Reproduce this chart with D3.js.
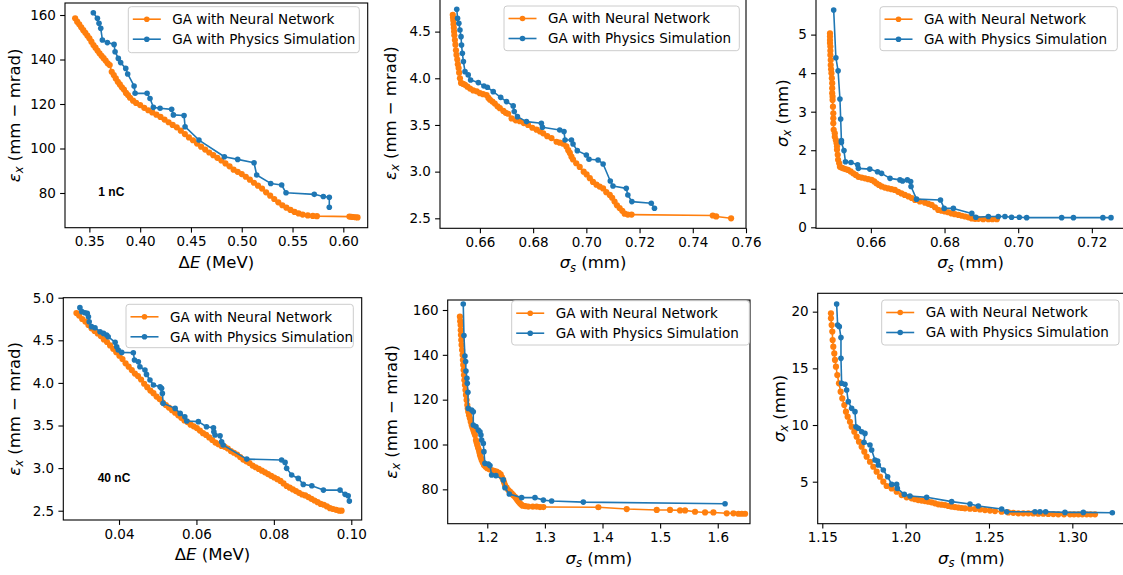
<!DOCTYPE html>
<meta charset="utf-8">
<style>
body { margin: 0; background: #fff; }
svg { display: block; font-family: "DejaVu Sans", sans-serif; }
.axis text { font-family: "DejaVu Sans", sans-serif; font-size: 13.5px; fill: #000; }
.axis line { stroke: #000; stroke-width: 1.1px; }
.frame { fill: none; stroke: #000; stroke-width: 1.1px; }
.lab { font-size: 16.5px; fill: #000; }
.leg text { font-size: 13.5px; fill: #000; }
.note { font-family: "Liberation Sans", Arial, sans-serif; font-weight: bold; font-size: 12px; }
</style>
<body>
<script src="https://cdnjs.cloudflare.com/ajax/libs/d3/7.8.5/d3.min.js"></script>
<script>

var width = 1123,
    height = 575;

var seriesNames = ["GA with Neural Network", "GA with Physics Simulation"],
    seriesColors = ["#ff7f0e", "#1f77b4"],
    markerR = [3.1, 2.8];

// ---- 1 nC : emittance vs energy spread
var nn1 = [[0.336,158.5],[0.338,157.0],[0.340,155.8],[0.342,154.5],[0.344,153.2],[0.346,152.0],[0.348,150.8],[0.350,149.5],
  [0.352,148.0],[0.354,146.5],[0.356,145.3],[0.358,144.0],[0.360,142.8],[0.362,141.7],[0.364,140.6],[0.366,139.5],[0.368,138.3],
  [0.370,137.5],[0.372,134.5],[0.374,133.0],[0.376,131.5],[0.378,130.0],[0.380,128.8],[0.382,127.5],[0.384,126.5],[0.386,125.0],
  [0.388,124.0],[0.390,122.8],[0.393,121.5],[0.396,120.5],[0.400,119.5],[0.404,118.3],[0.408,117.2],[0.412,116.2],[0.416,115.2],
  [0.420,114.2],[0.424,113.0],[0.428,111.8],[0.432,110.6],[0.436,109.5],[0.440,108.0],[0.444,106.5],[0.448,105.0],[0.452,103.7],
  [0.456,102.2],[0.460,100.8],[0.464,99.5],[0.468,98.2],[0.472,97.0],[0.476,95.8],[0.480,94.6],[0.484,93.3],[0.488,92.0],
  [0.492,90.5],[0.496,89.5],[0.500,88.5],[0.504,87.3],[0.508,86.0],[0.512,84.6],[0.516,83.3],[0.520,82.0],[0.524,80.3],
  [0.528,78.8],[0.532,77.3],[0.536,75.8],[0.540,74.5],[0.544,73.4],[0.548,72.4],[0.552,71.5],[0.556,70.8],[0.560,70.3],
  [0.565,69.9],[0.570,69.7],[0.574,69.6],[0.606,69.4],[0.608,69.3],[0.610,69.2],[0.612,69.1],[0.614,69.0]];
var ps1 = [[0.3539,161.0],[0.3579,158.5],[0.3595,156.3],[0.3612,154.0],[0.3628,148.8],[0.3677,147.6],[0.3743,146.8],
  [0.3753,143.5],[0.3785,140.5],[0.3808,138.6],[0.3858,136.0],[0.3877,133.5],[0.3940,128.1],[0.3950,124.8],[0.4068,124.8],
  [0.4097,122.5],[0.4130,118.5],[0.4196,118.1],[0.4310,117.6],[0.4327,115.1],[0.4432,114.8],[0.4442,109.8],[0.4579,103.8],
  [0.4829,96.3],[0.4960,95.1],[0.5121,93.6],[0.5147,88.1],[0.5285,84.3],[0.5393,83.6],[0.5436,80.1],[0.5714,79.4],
  [0.5803,78.4],[0.5862,78.1],[0.5862,73.6]];

// ---- 1 nC : emittance vs bunch length
var nn2 = [[0.6498,4.68],[0.6499,4.65],[0.6500,4.62],[0.6501,4.58],[0.6502,4.54],[0.6503,4.50],[0.6504,4.46],[0.6506,4.41],
  [0.6508,4.36],[0.6510,4.30],[0.6512,4.25],[0.6515,4.20],[0.6517,4.15],[0.6520,4.11],[0.6522,4.06],[0.6525,4.00],[0.6529,3.95],
  [0.6537,3.94],[0.6544,3.93],[0.6553,3.91],[0.6563,3.89],[0.6575,3.87],[0.6588,3.86],[0.6600,3.84],[0.6612,3.83],[0.6625,3.82],
  [0.6632,3.79],[0.6638,3.77],[0.6647,3.75],[0.6656,3.73],[0.6666,3.70],[0.6675,3.68],[0.6688,3.65],[0.6697,3.63],[0.6706,3.62],
  [0.6719,3.57],[0.6735,3.55],[0.6750,3.54],[0.6765,3.52],[0.6781,3.50],[0.6797,3.47],[0.6813,3.45],[0.6826,3.43],[0.6838,3.41],
  [0.6853,3.38],[0.6869,3.36],[0.6888,3.32],[0.6900,3.31],[0.6913,3.30],[0.6925,3.27],[0.6932,3.23],[0.6938,3.20],[0.6944,3.16],
  [0.6950,3.13],[0.6962,3.09],[0.6975,3.05],[0.6990,3.00],[0.7001,2.97],[0.7013,2.93],[0.7025,2.89],[0.7038,2.86],[0.7050,2.84],
  [0.7063,2.82],[0.7075,2.78],[0.7088,2.75],[0.7097,2.72],[0.7106,2.68],[0.7115,2.64],[0.7125,2.61],[0.7135,2.58],[0.7144,2.55],
  [0.7156,2.54],[0.7170,2.54],[0.7475,2.53],[0.7488,2.52],[0.7544,2.50]];
var ps2 = [[0.6513,4.739],[0.6516,4.643],[0.6521,4.589],[0.6525,4.518],[0.6529,4.446],[0.6531,4.357],[0.6534,4.268],
  [0.6538,4.179],[0.6544,4.071],[0.6556,4.036],[0.6565,3.982],[0.6594,3.954],[0.6615,3.918],[0.6628,3.904],[0.6650,3.857],
  [0.6678,3.796],[0.6700,3.750],[0.6725,3.704],[0.6729,3.643],[0.6741,3.589],[0.6775,3.536],[0.6831,3.518],[0.6835,3.475],
  [0.6900,3.446],[0.6916,3.429],[0.6920,3.339],[0.6944,3.339],[0.6950,3.296],[0.6966,3.225],[0.7000,3.179],[0.7010,3.132],
  [0.7044,3.125],[0.7063,3.082],[0.7090,2.900],[0.7100,2.846],[0.7150,2.821],[0.7156,2.750],[0.7171,2.679],[0.7244,2.661],
  [0.7256,2.607]];

// ---- 1 nC : beam size vs bunch length
var nn3 = [[0.6489,5.03],[0.6489,4.95],[0.6489,4.86],[0.6489,4.78],[0.6490,4.69],[0.6490,4.58],[0.6490,4.47],[0.6491,4.34],
  [0.6491,4.21],[0.6492,4.10],[0.6493,4.00],[0.6494,3.87],[0.6495,3.74],[0.6495,3.61],[0.6495,3.48],[0.6496,3.39],[0.6496,3.30],
  [0.6497,3.13],[0.6498,2.96],[0.6498,2.83],[0.6498,2.70],[0.6499,2.53],[0.6502,2.44],[0.6502,2.35],[0.6505,2.26],[0.6507,2.18],
  [0.6508,2.10],[0.6508,2.01],[0.6510,1.88],[0.6511,1.75],[0.6514,1.66],[0.6516,1.57],[0.6520,1.55],[0.6525,1.53],[0.6531,1.51],
  [0.6538,1.49],[0.6545,1.45],[0.6552,1.40],[0.6559,1.36],[0.6566,1.31],[0.6575,1.29],[0.6584,1.27],[0.6593,1.25],[0.6602,1.23],
  [0.6609,1.19],[0.6615,1.14],[0.6622,1.10],[0.6629,1.06],[0.6638,1.03],[0.6647,1.01],[0.6656,0.99],[0.6665,0.97],[0.6674,0.92],
  [0.6683,0.88],[0.6692,0.84],[0.6702,0.80],[0.6711,0.76],[0.6720,0.71],[0.6733,0.67],[0.6747,0.64],[0.6756,0.61],[0.6765,0.58],
  [0.6774,0.52],[0.6783,0.45],[0.6792,0.43],[0.6801,0.41],[0.6810,0.39],[0.6819,0.36],[0.6828,0.34],[0.6838,0.32],[0.6847,0.30],
  [0.6856,0.28],[0.6865,0.26],[0.6874,0.23],[0.6883,0.22],[0.6892,0.22],[0.6905,0.21],[0.6919,0.21],[0.6930,0.21],[0.6942,0.21]];
var ps3 = [[0.6499,5.64],[0.6505,4.40],[0.6511,4.06],[0.6516,3.33],[0.6518,2.81],[0.6520,2.25],[0.6520,2.20],[0.6527,1.99],
  [0.6531,1.70],[0.6546,1.68],[0.6564,1.62],[0.6566,1.53],[0.6597,1.51],[0.6618,1.44],[0.6629,1.40],[0.6652,1.27],[0.6679,1.23],
  [0.6686,1.20],[0.6699,1.23],[0.6708,1.19],[0.6709,1.06],[0.6724,0.73],[0.6789,0.71],[0.6799,0.49],[0.6824,0.49],[0.6874,0.36],
  [0.6885,0.26],[0.6919,0.28],[0.6946,0.28],[0.6964,0.28],[0.6982,0.26],[0.7003,0.26],[0.7023,0.25],[0.7118,0.25],[0.7150,0.25],
  [0.7230,0.25],[0.7252,0.25]];

// ---- 40 nC : emittance vs energy spread
var nn4 = [[0.0290,4.82],[0.0297,4.79],[0.0305,4.75],[0.0313,4.72],[0.0321,4.68],[0.0329,4.64],[0.0337,4.61],[0.0345,4.58],
  [0.0353,4.55],[0.0361,4.51],[0.0369,4.48],[0.0377,4.44],[0.0385,4.40],[0.0393,4.36],[0.0401,4.32],[0.0409,4.28],[0.0417,4.23],
  [0.0425,4.19],[0.0433,4.15],[0.0441,4.11],[0.0449,4.08],[0.0457,4.04],[0.0465,3.99],[0.0473,3.95],[0.0481,3.91],[0.0489,3.88],
  [0.0497,3.84],[0.0505,3.81],[0.0513,3.77],[0.0521,3.74],[0.0529,3.71],[0.0537,3.68],[0.0545,3.65],[0.0553,3.62],[0.0561,3.59],
  [0.0569,3.56],[0.0577,3.54],[0.0585,3.51],[0.0593,3.49],[0.0601,3.47],[0.0609,3.44],[0.0617,3.41],[0.0625,3.39],[0.0633,3.36],
  [0.0641,3.33],[0.0649,3.30],[0.0657,3.28],[0.0665,3.26],[0.0673,3.25],[0.0681,3.23],[0.0689,3.20],[0.0697,3.18],[0.0705,3.16],
  [0.0713,3.13],[0.0721,3.10],[0.0729,3.08],[0.0737,3.06],[0.0745,3.03],[0.0753,3.01],[0.0761,2.99],[0.0769,2.97],[0.0777,2.95],
  [0.0785,2.93],[0.0793,2.91],[0.0801,2.89],[0.0809,2.87],[0.0817,2.85],[0.0825,2.82],[0.0833,2.79],[0.0841,2.77],[0.0849,2.75],
  [0.0857,2.73],[0.0865,2.71],[0.0873,2.69],[0.0881,2.68],[0.0889,2.66],[0.0897,2.64],[0.0905,2.62],[0.0913,2.60],[0.0921,2.58],
  [0.0929,2.57],[0.0937,2.55],[0.0945,2.53],[0.0953,2.52],[0.0961,2.51],[0.0969,2.50],[0.0975,2.50]];
var ps4 = [[0.0299,4.883],[0.0304,4.836],[0.0312,4.824],[0.0318,4.816],[0.0321,4.777],[0.0323,4.718],[0.0329,4.660],
  [0.0338,4.648],[0.0351,4.601],[0.0360,4.581],[0.0368,4.562],[0.0372,4.542],[0.0390,4.476],[0.0394,4.425],[0.0398,4.386],
  [0.0407,4.358],[0.0437,4.354],[0.0440,4.268],[0.0450,4.249],[0.0454,4.190],[0.0467,4.151],[0.0471,4.100],[0.0480,4.034],
  [0.0489,3.975],[0.0506,3.955],[0.0510,3.936],[0.0512,3.877],[0.0514,3.760],[0.0545,3.701],[0.0558,3.642],[0.0570,3.603],
  [0.0575,3.553],[0.0605,3.545],[0.0626,3.486],[0.0644,3.474],[0.0645,3.427],[0.0648,3.388],[0.0661,3.380],[0.0665,3.310],
  [0.0669,3.271],[0.0730,3.106],[0.0820,3.095],[0.0829,3.067],[0.0833,2.997],[0.0846,2.919],[0.0863,2.879],[0.0876,2.809],
  [0.0898,2.793],[0.0928,2.742],[0.0971,2.742],[0.0984,2.692],[0.0992,2.676],[0.0995,2.613]];

// ---- 40 nC : emittance vs bunch length
var nn5 = [[1.1525,157.0],[1.1530,155.0],[1.1537,153.3],[1.1540,151.0],[1.1543,148.8],[1.1548,146.6],[1.1554,144.4],
  [1.1563,142.1],[1.1572,139.9],[1.1577,137.7],[1.1583,135.5],[1.1589,133.2],[1.1595,131.0],[1.1603,128.7],[1.1612,126.5],
  [1.1621,124.3],[1.1630,122.1],[1.1641,119.8],[1.1653,117.6],[1.1661,116.1],[1.1670,114.6],[1.1684,113.1],[1.1699,111.7],
  [1.1713,110.2],[1.1728,108.7],[1.1742,107.6],[1.1757,106.5],[1.1771,105.3],[1.1786,104.2],[1.1803,102.0],[1.1815,100.9],
  [1.1826,99.8],[1.1840,98.6],[1.1855,97.5],[1.1864,96.4],[1.1873,95.3],[1.1888,94.2],[1.1902,93.1],[1.1922,92.0],[1.1942,90.9],
  [1.1970,90.1],[1.2000,89.4],[1.2037,89.0],[1.2075,88.6],[1.2118,88.2],[1.2162,87.9],[1.2200,87.3],[1.2232,86.7],[1.2255,85.4],
  [1.2278,84.2],[1.2292,83.0],[1.2307,81.9],[1.2336,80.8],[1.2365,79.7],[1.2394,79.0],[1.2423,78.2],[1.2451,77.4],[1.2480,76.7],
  [1.2500,76.0],[1.2521,75.2],[1.2544,74.5],[1.2567,73.8],[1.2590,73.2],[1.2614,72.7],[1.2660,72.5],[1.2712,72.3],[1.2790,72.3],
  [1.2857,72.3],[1.2915,72.1],[1.2973,72.1],[1.3928,72.0],[1.4420,71.2],[1.4941,70.8],[1.5172,70.8],[1.5346,70.6],[1.5433,70.6],
  [1.5606,70.0],[1.5780,69.7],[1.5925,69.7],[1.6156,69.3],[1.6272,69.3],[1.6359,69.1],[1.6417,69.1],[1.6475,69.1]];
var ps5 = [[1.1583,162.7],[1.1595,148.6],[1.1612,139.5],[1.1624,137.0],[1.1630,132.8],[1.1647,129.5],[1.1653,127.3],
  [1.1664,123.3],[1.1670,116.1],[1.1728,115.4],[1.1757,114.6],[1.1757,108.7],[1.1803,108.0],[1.1844,106.5],[1.1873,105.7],
  [1.1890,104.2],[1.1902,102.0],[1.1931,100.5],[1.1942,96.8],[1.1959,91.6],[1.2017,91.3],[1.2046,90.6],[1.2075,86.4],
  [1.2150,86.1],[1.2278,84.2],[1.2307,80.7],[1.2382,77.9],[1.2596,76.3],[1.2828,76.3],[1.2973,75.2],[1.3117,74.8],
  [1.3667,74.3],[1.6127,73.6]];

// ---- 40 nC : beam size vs bunch length
var nn6 = [[1.1552,19.85],[1.1552,19.41],[1.1556,18.82],[1.1560,18.24],[1.1562,17.50],[1.1566,16.91],[1.1572,16.32],
  [1.1576,15.74],[1.1582,15.15],[1.1590,14.41],[1.1600,13.68],[1.1610,12.94],[1.1620,12.35],[1.1632,11.76],[1.1642,11.18],
  [1.1652,10.74],[1.1666,10.29],[1.1676,9.85],[1.1692,9.41],[1.1706,8.97],[1.1720,8.53],[1.1736,8.09],[1.1752,7.65],
  [1.1766,7.21],[1.1786,6.76],[1.1806,6.32],[1.1826,5.88],[1.1846,5.44],[1.1866,5.00],[1.1886,4.62],[1.1916,4.41],
  [1.1946,4.12],[1.1976,3.82],[1.2006,3.62],[1.2036,3.53],[1.2056,3.45],[1.2076,3.38],[1.2096,3.33],[1.2116,3.29],
  [1.2136,3.23],[1.2156,3.18],[1.2176,3.09],[1.2196,3.00],[1.2216,2.97],[1.2236,2.94],[1.2256,2.86],[1.2276,2.79],
  [1.2296,2.75],[1.2316,2.71],[1.2336,2.68],[1.2356,2.65],[1.2386,2.62],[1.2416,2.59],[1.2446,2.55],[1.2476,2.50],
  [1.2506,2.45],[1.2536,2.41],[1.2576,2.35],[1.2616,2.29],[1.2646,2.25],[1.2676,2.21],[1.2706,2.21],[1.2736,2.21],
  [1.2766,2.20],[1.2796,2.18],[1.2826,2.17],[1.2856,2.15],[1.2886,2.14],[1.2916,2.12],[1.2950,2.12],[1.2986,2.12],
  [1.3010,2.12],[1.3036,2.12],[1.3060,2.12],[1.3086,2.12],[1.3110,2.12],[1.3136,2.12]];
var ps6 = [[1.1586,20.68],[1.1592,18.82],[1.1602,18.68],[1.1612,17.71],[1.1612,15.88],[1.1616,13.68],[1.1636,13.59],
  [1.1646,13.09],[1.1656,12.06],[1.1676,11.47],[1.1696,11.18],[1.1702,9.85],[1.1716,9.71],[1.1736,9.41],[1.1756,9.26],
  [1.1750,8.47],[1.1786,8.24],[1.1796,7.79],[1.1816,6.91],[1.1832,6.82],[1.1836,6.47],[1.1866,6.03],[1.1892,5.44],
  [1.1916,4.76],[1.1946,4.76],[1.1950,4.41],[1.1992,3.88],[1.2026,3.74],[1.2126,3.62],[1.2276,3.24],[1.2386,3.03],
  [1.2436,2.85],[1.2576,2.59],[1.2606,2.35],[1.2776,2.35],[1.2806,2.35],[1.2840,2.35],[1.2956,2.29],[1.3066,2.29],
  [1.3240,2.26]];

// tick values
var xTicks1 = [0.35, 0.40, 0.45, 0.50, 0.55, 0.60], yTicks1 = [80, 100, 120, 140, 160];
var xTicks2 = [0.66, 0.68, 0.70, 0.72, 0.74, 0.76], yTicks2 = [2.5, 3.0, 3.5, 4.0, 4.5];
var xTicks3 = [0.66, 0.68, 0.70, 0.72], yTicks3 = [0, 1, 2, 3, 4, 5];
var xTicks4 = [0.04, 0.06, 0.08, 0.10], yTicks4 = [2.5, 3.0, 3.5, 4.0, 4.5, 5.0];
var xTicks5 = [1.2, 1.3, 1.4, 1.5, 1.6], yTicks5 = [80, 100, 120, 140, 160];
var xTicks6 = [1.15, 1.20, 1.25, 1.30], yTicks6 = [5, 10, 15, 20];

// axis label pieces: [text, italic, subscript]
var labDE = [["Δ"], ["E", 1], [" (MeV)"]],
    labEps = [["ε", 1], ["x", 1, 1], [" (mm − mrad)"]],
    labSs = [["σ", 1], ["s", 1, 1], [" (mm)"]],
    labSx = [["σ", 1], ["x", 1, 1], [" (mm)"]];

// layout: frame = [left, top, right, bottom] in px
var panels = [
  {nn: nn1, ps: ps1, frame: [65, 3, 367.7, 227.7], xd: [0.326, 0.624], yd: [64.4, 165.4],
   xt: xTicks1, yt: yTicks1, xf: ".2f", yf: "d", xl: labDE, yl: labEps, ylx: 15,
   legend: [128.3, 6.7, 231, 46], note: "1 nC", noteAt: [98.3, 195.5]},
  {nn: nn2, ps: ps2, frame: [440, -2, 746, 228.3], xd: [0.645, 0.76], yd: [2.393, 4.86],
   xt: xTicks2, yt: yTicks2, xf: ".2f", yf: ".1f", xl: labSs, yl: labEps, ylx: 391,
   legend: [504, 6, 235.3, 44.7]},
  {nn: nn3, ps: ps3, frame: [816, -2, 1125, 228.3], xd: [0.6451, 0.729], yd: [-0.026, 5.95],
   xt: xTicks3, yt: yTicks3, xf: ".2f", yf: "d", xl: labSs, yl: labSx, ylx: 783,
   legend: [880, 6.7, 237.3, 44]},
  {nn: nn4, ps: ps4, frame: [63.3, 297.7, 361.7, 520], xd: [0.02561, 0.10269], yd: [2.391, 5.0],
   xt: xTicks4, yt: yTicks4, xf: ".2f", yf: ".1f", xl: labDE, yl: labEps, ylx: 15,
   legend: [126, 304.3, 227.3, 43.4], note: "40 nC", noteAt: [97.7, 482.3]},
  {nn: nn5, ps: ps5, frame: [447.7, 300, 750, 523.7], xd: [1.1313, 1.656], yd: [64.67, 164.46],
   xt: xTicks5, yt: yTicks5, xf: ".1f", yf: "d", xl: labSs, yl: labEps, ylx: 392,
   legend: [511.7, 300.7, 237.6, 44.3]},
  {nn: nn6, ps: ps6, frame: [817.7, 293.3, 1125, 523.7], xd: [1.14724, 1.3316], yd: [1.294, 21.62],
   xt: xTicks6, yt: yTicks6, xf: ".2f", yf: "d", xl: labSs, yl: labSx, ylx: 780,
   legend: [881.7, 300, 237.3, 45]}
];

var svg = d3.select("body").append("svg")
    .attr("width", width)
    .attr("height", height);

function addLabel(text, parts) {
  var wasSub = false;
  parts.forEach(function(p) {
    var t = text.append("tspan").text(p[0]);
    if (p[1]) t.attr("font-style", "italic");
    if (p[2]) t.attr("font-size", "11.5px").attr("dy", "3.2px");
    else if (wasSub) t.attr("dy", "-3.2px");
    wasSub = !!p[2];
  });
}

panels.forEach(function(p, i) {
  var f = p.frame;
  var x = d3.scaleLinear().domain(p.xd).range([f[0], f[2]]),
      y = d3.scaleLinear().domain(p.yd).range([f[3], f[1]]);

  var g = svg.append("g");

  g.append("clipPath").attr("id", "clip" + i)
    .append("rect")
      .attr("x", f[0]).attr("y", f[1])
      .attr("width", f[2] - f[0]).attr("height", f[3] - f[1]);

  // axes
  var gx = g.append("g").attr("class", "axis")
      .attr("transform", "translate(0," + f[3] + ")")
      .call(d3.axisBottom(x).tickValues(p.xt).tickFormat(d3.format(p.xf))
        .tickSize(4.9).tickSizeOuter(0).tickPadding(4.2));
  var gy = g.append("g").attr("class", "axis")
      .attr("transform", "translate(" + f[0] + ",0)")
      .call(d3.axisLeft(y).tickValues(p.yt).tickFormat(d3.format(p.yf))
        .tickSize(4.9).tickSizeOuter(0).tickPadding(4.2));
  gx.select(".domain").remove();
  gy.select(".domain").remove();

  // series
  var line = d3.line()
      .x(function(d) { return x(d[0]); })
      .y(function(d) { return y(d[1]); });

  var plot = g.append("g").attr("clip-path", "url(#clip" + i + ")");
  [p.nn, p.ps].forEach(function(s, k) {
    plot.append("path")
        .datum(s)
        .attr("d", line)
        .attr("fill", "none")
        .attr("stroke", seriesColors[k])
        .attr("stroke-width", 1.6)
        .attr("stroke-linejoin", "round");
    plot.selectAll(null)
        .data(s)
      .enter().append("circle")
        .attr("cx", function(d) { return x(d[0]); })
        .attr("cy", function(d) { return y(d[1]); })
        .attr("r", markerR[k])
        .attr("fill", seriesColors[k]);
  });

  g.append("rect").attr("class", "frame")
      .attr("x", f[0]).attr("y", f[1])
      .attr("width", f[2] - f[0]).attr("height", f[3] - f[1]);

  // axis labels
  var xl = g.append("text").attr("class", "lab")
      .attr("x", (f[0] + f[2]) / 2)
      .attr("y", f[3] + 40)
      .attr("text-anchor", "middle");
  addLabel(xl, p.xl);

  var cy = (f[1] + f[3]) / 2;
  var yl = g.append("text").attr("class", "lab")
      .attr("transform", "translate(" + (p.ylx + 5) + "," + cy + ") rotate(-90)")
      .attr("text-anchor", "middle");
  addLabel(yl, p.yl);

  if (p.note) {
    g.append("text").attr("class", "note")
        .attr("x", p.noteAt[0]).attr("y", p.noteAt[1])
        .text(p.note);
  }

  // legend
  var L = p.legend;
  var leg = g.append("g").attr("class", "leg")
      .attr("transform", "translate(" + L[0] + "," + L[1] + ")");
  leg.append("rect")
      .attr("width", L[2]).attr("height", L[3])
      .attr("rx", 3)
      .attr("fill", "#fff").attr("fill-opacity", 0.8)
      .attr("stroke", "#cccccc").attr("stroke-width", 1);
  seriesNames.forEach(function(name, k) {
    var ry = 12.5 + k * 20;
    leg.append("line")
        .attr("x1", 4.5).attr("x2", 32.5)
        .attr("y1", ry).attr("y2", ry)
        .attr("stroke", seriesColors[k]).attr("stroke-width", 1.6);
    leg.append("circle")
        .attr("cx", 18.5).attr("cy", ry).attr("r", 2.8)
        .attr("fill", seriesColors[k]);
    leg.append("text")
        .attr("x", 44).attr("y", ry)
        .attr("dy", "0.36em")
        .text(name);
  });
});

</script>
